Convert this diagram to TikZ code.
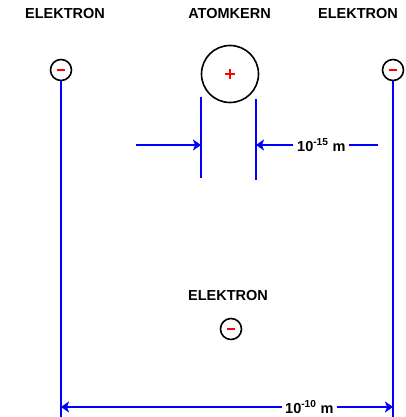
\documentclass[tikz,border=0pt]{standalone}
\usepackage{fontspec}
\setmainfont{Liberation Sans}
\usetikzlibrary{arrows.meta}
\tikzset{
  lbl/.style={font=\fontsize{14.5}{16}\selectfont\bfseries, inner sep=0pt, text=black},
  dimlbl/.style={font=\fontsize{14.5}{16}\selectfont\bfseries, inner sep=0pt, text=black},
  electron/.style={circle, draw=black, line width=1.6pt, minimum size=21pt, inner sep=0pt,
    path picture={\draw[red, line width=2pt]
      ([xshift=-3.6pt]path picture bounding box.center) --
      ([xshift=3.6pt]path picture bounding box.center);}},
  nucleus/.style={circle, draw=black, line width=1.6pt, minimum size=57pt, inner sep=0pt,
    path picture={\draw[red, line width=2pt]
      ([xshift=-5pt]path picture bounding box.center) --
      ([xshift=5pt]path picture bounding box.center)
      ([yshift=-5pt]path picture bounding box.center) --
      ([yshift=5pt]path picture bounding box.center);}},
  blueline/.style={draw=blue, line width=2.2pt},
  dimarrow/.style={draw=blue, line width=2.2pt, -{Stealth[length=8pt,width=11pt,inset=2pt]}},
}
\begin{document}
\begin{tikzpicture}[x=1pt,y=-1pt]
\useasboundingbox (0,0) rectangle (406,417);
% labels
\node[lbl] (tL) at (65,14) {ELEKTRON};
\node[lbl] (tC) at (229.5,14) {ATOMKERN};
\node[lbl] (tR) at (358,14) {ELEKTRON};
\node[lbl] (tB) at (228,296) {ELEKTRON};
% particles
\node[electron] (eL) at (61,70) {};
\node[electron] (eR) at (393,70) {};
\node[electron] (eB) at (231,329) {};
\node[nucleus] (nuc) at (230,74) {};
% vertical lines
\coordinate (eLbot) at (61,417);
\coordinate (eRbot) at (393,417);
\draw[blueline] (eL.south) -- (eLbot);
\draw[blueline] (eR.south) -- (eRbot);
\coordinate (vLt) at (201,97);
\coordinate (vLb) at (201,178);
\coordinate (vRt) at (256,99);
\coordinate (vRb) at (256,180);
\draw[blueline] (vLt) -- (vLb);
\draw[blueline] (vRt) -- (vRb);
% 10^-15 m dimension
\coordinate (aLs) at (136,145);
\coordinate (aLe) at (201,145);
\coordinate (aRe) at (256,145);
\coordinate (aRx) at (378,145);
\node[dimlbl, anchor=west] (d15) at (297,145) {10\textsuperscript{-15} m};
\draw[dimarrow] (aLs) -- (aLe);
\draw[dimarrow] ([xshift=-4pt]d15.west) -- (aRe);
\draw[blueline] ([xshift=3pt]d15.east) -- (aRx);
% 10^-10 m dimension
\coordinate (bL) at (61,407);
\coordinate (bR) at (393,407);
\node[dimlbl, anchor=west] (d10) at (285,407) {10\textsuperscript{-10} m};
\draw[dimarrow] ([xshift=-3pt]d10.west) -- (bL);
\draw[dimarrow] ([xshift=3pt]d10.east) -- (bR);
\end{tikzpicture}
\end{document}
